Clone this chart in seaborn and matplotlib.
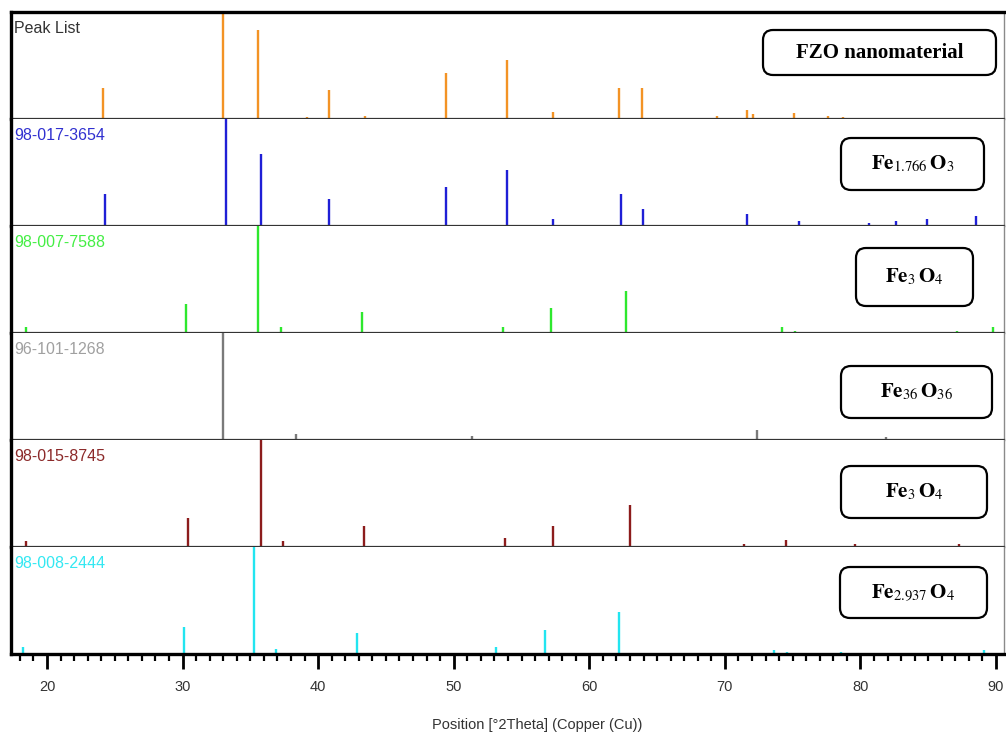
import numpy as np
import pandas as pd
import matplotlib
matplotlib.use("Agg")
import matplotlib.pyplot as plt
import seaborn as sns
from matplotlib.patches import FancyBboxPatch
from matplotlib.ticker import MultipleLocator

# ---------------- data ----------------
refs = ["Peak List", "98-017-3654", "98-007-7588", "96-101-1268", "98-015-8745", "98-008-2444"]
phases = ["FZO nanomaterial",
          r"$\mathbf{Fe}_{1.766}\,\mathbf{O}_{3}$",
          r"$\mathbf{Fe}_{3}\,\mathbf{O}_{4}$",
          r"$\mathbf{Fe}_{36}\,\mathbf{O}_{36}$",
          r"$\mathbf{Fe}_{3}\,\mathbf{O}_{4}$",
          r"$\mathbf{Fe}_{2.937}\,\mathbf{O}_{4}$"]

peak_pos = [24.13, 33.0, 35.57, 39.2, 40.81, 43.47, 49.4, 53.95, 57.35, 62.2, 63.9, 69.4, 71.66, 72.1, 75.1, 77.6, 78.7]
peak_int = [29, 100, 83, 2, 27, 3, 43, 55, 7, 29, 29, 3, 8, 5, 6, 3, 2]

r3654_pos = [24.28, 33.2, 35.8, 40.8, 49.4, 53.95, 57.35, 62.36, 63.99, 69.5, 71.66, 75.5, 77.6, 78.7, 80.6, 82.66, 84.9, 88.5]
r3654_int = [30, 100, 67, 25, 36, 52, 7, 30, 16, 1, 11, 5, 1, 1, 3, 5, 7, 9]

r7588_pos = [18.45, 30.26, 35.57, 37.27, 43.25, 53.6, 57.2, 62.7, 71.1, 74.2, 75.2, 79.0, 87.1, 89.8]
r7588_int = [6, 27, 100, 6, 20, 6, 23, 39, 1, 6, 2, 1, 2, 6]

r1268_pos = [33.0, 38.38, 51.37, 61.55, 72.4, 74.7, 81.85]
r1268_int = [100, 6, 4, 1, 9, 1, 3]

r8745_pos = [18.45, 30.4, 35.8, 37.4, 43.4, 47.5, 53.8, 57.3, 63.0, 66.2, 71.4, 74.5, 75.6, 79.6, 82.4, 87.3]
r8745_int = [6, 27, 100, 6, 20, 1, 8, 20, 39, 1, 3, 7, 1, 3, 1, 3]

r2444_pos = [18.2, 30.1, 35.3, 36.9, 42.9, 53.1, 56.7, 62.2, 70.6, 73.6, 74.6, 78.6, 86.3, 89.15]
r2444_int = [7, 25, 100, 5, 20, 7, 22, 39, 1, 4, 2, 2, 1, 4]

x_ticks = [20, 30, 40, 50, 60, 70, 80, 90]
x_label = "Position [°2Theta] (Copper (Cu))"

# ---------------- styling ----------------
line_colors = {"Peak List": "#F39325", "98-017-3654": "#1F1FD6", "98-007-7588": "#2EE82E",
               "96-101-1268": "#7A7A7A", "98-015-8745": "#8C1C1C", "98-008-2444": "#22E5F0"}
text_colors = {"Peak List": "#333333", "98-017-3654": "#3030D0", "98-007-7588": "#44EE44",
               "96-101-1268": "#A0A0A0", "98-015-8745": "#8C2A2A", "98-008-2444": "#33E8F2"}

frames = []
for r, p, i in zip(refs,
                   [peak_pos, r3654_pos, r7588_pos, r1268_pos, r8745_pos, r2444_pos],
                   [peak_int, r3654_int, r7588_int, r1268_int, r8745_int, r2444_int]):
    frames.append(pd.DataFrame({"ref": r, "pos": p, "int": i}))
df = pd.concat(frames, ignore_index=True)

sns.set_theme(style="white")
plt.rcParams["font.family"] = ["Liberation Sans", "DejaVu Sans"]
plt.rcParams["mathtext.fontset"] = "stix"

W, H = 10.06, 7.40
g = sns.FacetGrid(df, row="ref", row_order=refs, sharex=True, sharey=True,
                  height=1.07, aspect=9.93 / 1.07, despine=False)


def sticks(*args, data=None, **kws):
    ax = plt.gca()
    ref = data["ref"].iloc[0]
    ax.vlines(data["pos"], 0, data["int"], colors=line_colors[ref], lw=1.7)


g.map_dataframe(sticks)
fig = g.figure
fig.set_size_inches(W, H)
fig.set_dpi(100)

left_px, right_px, top_px, bot_px = 11, 1004, 12, 654
fig.subplots_adjust(left=left_px / 1006, right=right_px / 1006,
                    top=1 - top_px / 740, bottom=1 - bot_px / 740, hspace=0)

px_per_unit = (996 - 47) / 70.0
xmin = 20 - (47 - left_px) / px_per_unit
xmax = 90 + (right_px - 996) / px_per_unit

axes = g.axes.flatten()
n = len(axes)
for k, ax in enumerate(axes):
    ax.set_title("")
    ax.set_xlim(xmin, xmax)
    ax.set_ylim(0, 100)
    ax.set_ylabel("")
    ax.set_xlabel("")
    ax.set_yticks([])
    ax.grid(False)
    ax.spines["left"].set_linewidth(2.4)
    ax.spines["left"].set_color("black")
    ax.spines["right"].set_linewidth(1.0)
    ax.spines["right"].set_color("#8a8a8a")
    if k == 0:
        ax.spines["top"].set_linewidth(2.4)
        ax.spines["top"].set_color("black")
    else:
        ax.spines["top"].set_visible(False)
    if k == n - 1:
        ax.spines["bottom"].set_linewidth(2.4)
        ax.spines["bottom"].set_color("black")
    else:
        ax.spines["bottom"].set_linewidth(1.6)
        ax.spines["bottom"].set_color("#333333")
        ax.tick_params(axis="x", which="both", bottom=False, labelbottom=False)
    ax.annotate(refs[k], xy=(0, 1), xycoords="axes fraction", xytext=(3, -9),
                textcoords="offset pixels", ha="left", va="top",
                fontsize=11.5, color=text_colors[refs[k]])

axb = axes[-1]
axb.set_xticks(x_ticks)
axb.set_xticklabels([str(t) for t in x_ticks])
axb.xaxis.set_minor_locator(MultipleLocator(1))
axb.tick_params(axis="x", which="major", direction="out", length=11, width=2.0,
                bottom=True, labelbottom=True, labelsize=10.5, colors="black",
                labelcolor="#333333", pad=8)
axb.tick_params(axis="x", which="minor", direction="out", length=5, width=1.6,
                bottom=True, colors="black")

fig.text(537 / 1006, 1 - 725 / 740, x_label, ha="center", va="center",
         fontsize=10.5, color="#333333")

# phase boxes (pixel layout)
boxes = [(763, 30, 996, 75), (841, 138, 984, 190), (856, 248, 973, 306),
         (841, 366, 992, 418), (841, 466, 987, 518), (840, 567, 987, 618)]
for (x0, y0, x1, y1), label in zip(boxes, phases):
    bx = x0 / 100.0
    by = (740 - y1) / 100.0
    bw = (x1 - x0) / 100.0
    bh = (y1 - y0) / 100.0
    patch = FancyBboxPatch((bx, by), bw, bh,
                           boxstyle="round,pad=0,rounding_size=0.1",
                           transform=fig.dpi_scale_trans, facecolor="white",
                           edgecolor="black", lw=1.6, zorder=10)
    fig.add_artist(patch)
    cx = (x0 + x1) / 2 / 1006
    cy = 1 - (y0 + y1) / 2 / 740
    fig.text(cx, cy, label, ha="center", va="center", fontsize=15,
             fontweight="bold", family=["Liberation Serif", "DejaVu Serif"],
             color="black", zorder=11)

fig.savefig("out.png", dpi=100)
